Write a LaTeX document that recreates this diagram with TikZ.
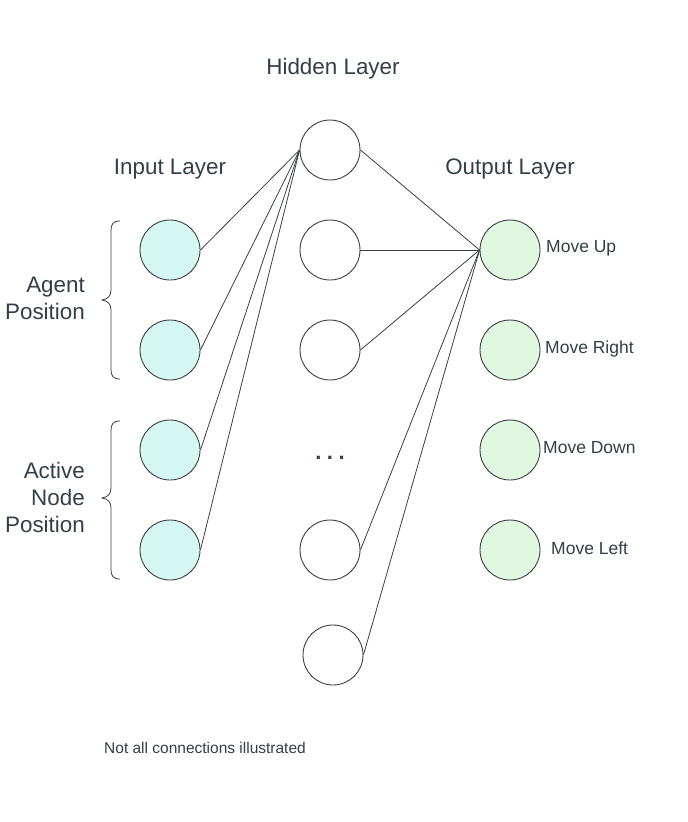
\documentclass[tikz,border=0pt]{standalone}
\usepackage{fontspec}
\setmainfont{Liberation Sans}
\definecolor{txt}{HTML}{333E48}
\definecolor{strk}{HTML}{3A3F45}
\definecolor{infill}{HTML}{D5F7F1}
\definecolor{outfill}{HTML}{E0F8E0}
\tikzset{
  neuron/.style={circle, draw=strk, line width=0.9pt, minimum size=60pt, inner sep=0pt},
  innode/.style={neuron, fill=infill},
  hidnode/.style={neuron, fill=white},
  outnode/.style={neuron, fill=outfill},
  conn/.style={draw=strk, line width=0.8pt},
  bigtxt/.style={text=txt, font=\fontsize{22.4}{27}\selectfont, inner sep=0pt},
  movetxt/.style={text=txt, font=\fontsize{17.5}{20}\selectfont, inner sep=0pt, anchor=west},
  bracestyle/.style={draw=strk, line width=0.8pt}
}
\begin{document}
\begin{tikzpicture}[x=1pt,y=-1pt]
\useasboundingbox (0,0) rectangle (688,822);
% titles
\node[bigtxt] (th) at (333,69) {Hidden Layer};
\node[bigtxt] (ti) at (170,169) {Input Layer};
\node[bigtxt] (to) at (510,169) {Output Layer};
% input nodes
\node[innode] (i1) at (170,250) {};
\node[innode] (i2) at (170,350) {};
\node[innode] (i3) at (170,450) {};
\node[innode] (i4) at (170,550) {};
% hidden nodes
\node[hidnode] (h1) at (330,150) {};
\node[hidnode] (h2) at (330,250) {};
\node[hidnode] (h3) at (330,350) {};
\node[hidnode] (h4) at (330,550) {};
\node[hidnode] (h5) at (333,655) {};
\node[text=txt, font=\fontsize{22}{26}\selectfont\bfseries, inner sep=0pt] (dots) at (330,458) {.\hspace{5.5pt}.\hspace{5.5pt}.};
% output nodes
\node[outnode] (o1) at (510,250) {};
\node[outnode] (o2) at (510,350) {};
\node[outnode] (o3) at (510,450) {};
\node[outnode] (o4) at (510,550) {};
% output labels
\node[movetxt] (l1) at (546,248) {Move Up};
\node[movetxt] (l2) at (545,349) {Move Right};
\node[movetxt] (l3) at (543,448) {Move Down};
\node[movetxt] (l4) at (551,548) {Move Left};
% connections input -> hidden
\foreach \n in {i1,i2,i3,i4} \draw[conn] (\n.east) -- (h1.west);
% connections hidden -> output
\foreach \n in {h1,h2,h3,h4,h5} \draw[conn] (\n.east) -- (o1.west);
% braces
\draw[bracestyle] (120,221) .. controls (113,221) and (111,224) .. (111,231)
  -- (111,290) .. controls (111,296) and (108,299) .. (102,300)
  .. controls (108,301) and (111,304) .. (111,310)
  -- (111,369) .. controls (111,376) and (113,379) .. (120,379);
\draw[bracestyle] (120,421) .. controls (113,421) and (111,424) .. (111,431)
  -- (111,488) .. controls (111,494) and (108,497) .. (102,498)
  .. controls (108,499) and (111,502) .. (111,508)
  -- (111,569) .. controls (111,576) and (113,579) .. (120,579);
\node[bigtxt, align=right, anchor=east, font=\fontsize{22.4}{27}\selectfont] (ap) at (85,298) {Agent\\Position};
\node[bigtxt, align=right, anchor=east, font=\fontsize{22.4}{27}\selectfont] (anp) at (85,497) {Active\\Node\\Position};
% footnote
\node[text=txt, font=\fontsize{15.5}{18}\selectfont, inner sep=0pt, anchor=west] (note) at (104,748) {Not all connections illustrated};
\end{tikzpicture}
\end{document}
